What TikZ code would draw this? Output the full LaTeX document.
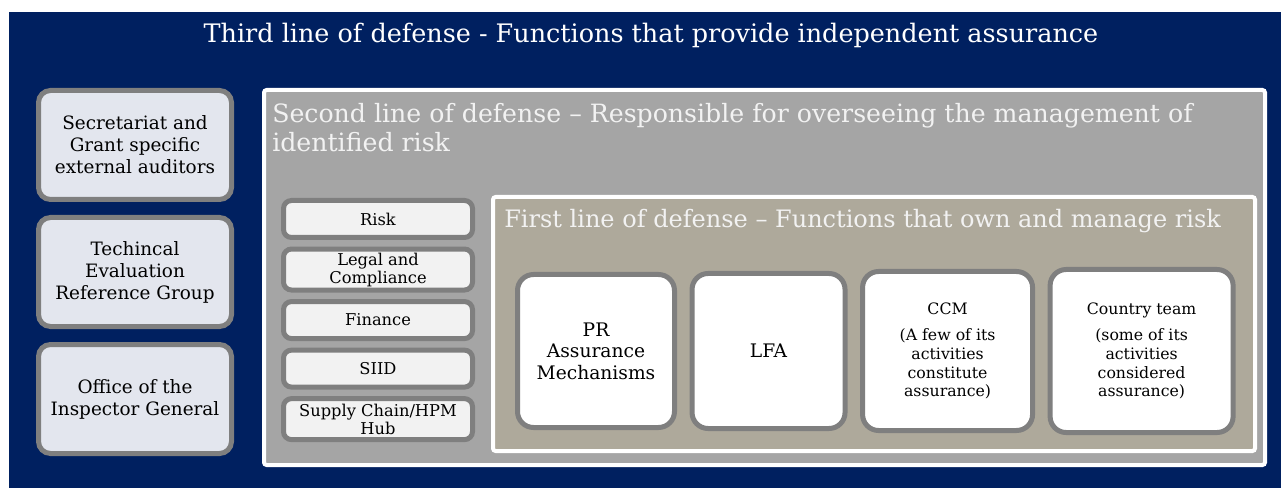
\documentclass[tikz,border=0pt]{standalone}
\usepackage{fontspec}
\setmainfont{DejaVu Serif}
\usetikzlibrary{positioning}

\definecolor{navy}{HTML}{002060}
\definecolor{boxgray}{HTML}{7F7F7F}
\definecolor{midgray}{HTML}{A5A5A5}
\definecolor{tan}{HTML}{AEA99B}
\definecolor{lilac}{HTML}{E3E6EE}
\definecolor{paper}{HTML}{F2F2F2}

\begin{document}
\begin{tikzpicture}[x=0.75pt, y=-0.75pt, align=center, inner sep=1pt]
        \tikzstyle{frame} = [draw=white, line width=3pt, rounded corners=2pt, anchor=north west]
        \tikzstyle{heading} = [text=paper, anchor=base west, align=left, inner sep=0pt]
        \tikzstyle{thirdbox} = [rectangle, rounded corners=9pt, draw=boxgray, line width=3.75pt, fill=lilac,
                                minimum width=144.75pt, minimum height=81.75pt, font=\fontsize{13.8}{16.5}\selectfont]
        \tikzstyle{secondbox} = [rectangle, rounded corners=6pt, draw=boxgray, line width=3.75pt, fill=paper,
                                 minimum width=141.75pt, font=\fontsize{12.2}{13.5}\selectfont]
        \tikzstyle{firstbox} = [rectangle, rounded corners=12pt, draw=boxgray, line width=3.75pt, fill=white]

        % page and third line
        \useasboundingbox (0,0) rectangle (1281,488);
        \fill[white] (0,0) rectangle (1281,488);
        \fill[navy] (9,12) rectangle (1281,488);
        \node[text=white, anchor=base, inner sep=0pt, font=\fontsize{19.1}{22}\selectfont](third_title) at (651,43)
            {Third line of defense - Functions that provide independent assurance};

        \node[thirdbox, anchor=north west](auditors) at (36,88) {Secretariat and\\Grant specific\\external auditors};
        \node[thirdbox](terg) [below=9.75pt of auditors] {Techincal\\Evaluation\\Reference Group};
        \node[thirdbox](oig) [below=9.75pt of terg] {Office of the\\Inspector General};

        % second line (base of a two-line node sits on its last line)
        \node[frame, fill=midgray, minimum width=750.75pt, minimum height=281.25pt](second_line) at (262,88) {};
        \node[heading, font=\fontsize{18.9}{21.75}\selectfont](second_title) at (272,152)
            {Second line of defense – Responsible for overseeing the management of\\identified risk};

        \node[secondbox, anchor=north west, minimum height=27.75pt](risk) at (281,198) {Risk};
        \node[secondbox, minimum height=30.75pt](legal) [below=4.9pt of risk] {Legal and\\Compliance};
        \node[secondbox, minimum height=27.75pt](finance) [below=4.9pt of legal] {Finance};
        \node[secondbox, minimum height=27.75pt](siid) [below=4.9pt of finance] {SIID};
        \node[secondbox, minimum height=30.75pt](supply) [below=4.9pt of siid] {Supply Chain/HPM\\Hub};

        % first line
        \node[frame, fill=tan, minimum width=571.5pt, minimum height=190.5pt](first_line) at (491,195) {};
        \node[heading, font=\fontsize{18}{21}\selectfont](first_title) at (504,228)
            {First line of defense – Functions that own and manage risk};

        \node[firstbox, anchor=west, minimum width=117.75pt, minimum height=114.75pt,
              font=\fontsize{14}{16}\selectfont](pr) at (515,351) {PR\\Assurance\\Mechanisms};
        \node[firstbox, minimum width=114.75pt, minimum height=116.25pt,
              font=\fontsize{14}{16}\selectfont](lfa) [right=9.4pt of pr] {LFA};
        \node[firstbox, minimum width=127.5pt, minimum height=119.25pt,
              font=\fontsize{11.8}{14}\selectfont](ccm) [right=9.4pt of lfa]
            {CCM\\[6pt](A few of its\\activities\\constitute\\assurance)};
        \node[firstbox, minimum width=137.25pt, minimum height=122.25pt,
              font=\fontsize{11.8}{14}\selectfont](country) [right=9.4pt of ccm]
            {Country team\\[6pt](some of its\\activities\\considered\\assurance)};
    \end{tikzpicture}
\end{document}
